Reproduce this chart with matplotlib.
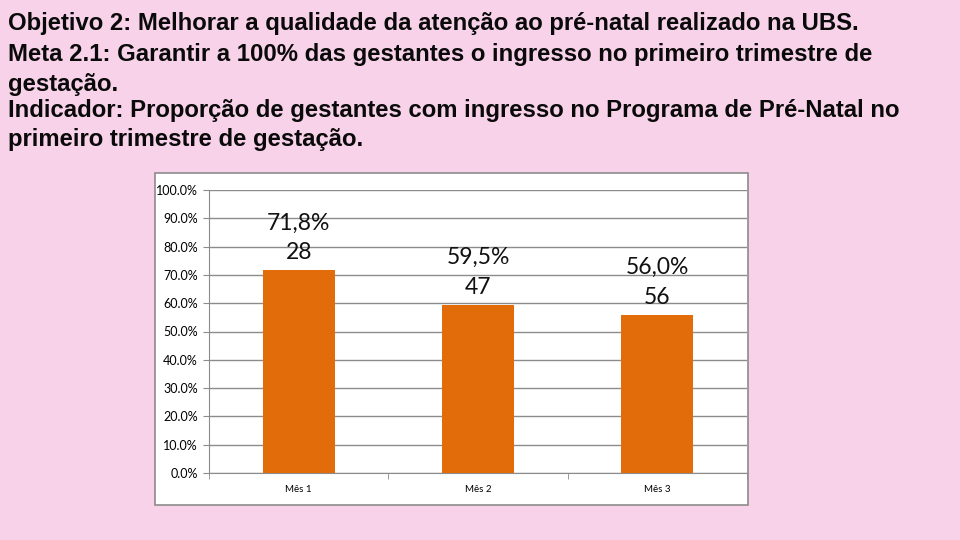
import numpy as np
import matplotlib.pyplot as plt
from matplotlib.patches import Rectangle
from matplotlib.ticker import FuncFormatter, MultipleLocator

meses = ['Mês 1', 'Mês 2', 'Mês 3']
proporcao = [71.8, 59.5, 56.0]
gestantes = [28, 47, 56]
rotulos = ['71,8%', '59,5%', '56,0%']

titulo = [
    'Objetivo 2: Melhorar a qualidade da atenção ao pré-natal realizado na UBS.',
    'Meta 2.1: Garantir a 100% das gestantes o ingresso no primeiro trimestre de',
    'gestação.',
    'Indicador: Proporção de gestantes com ingresso no Programa de Pré-Natal no',
    'primeiro trimestre de gestação.',
]
baselines = [30, 61, 91, 117, 146]

bg = '#f7d2e9'
laranja = '#e36c0a'

fig = plt.figure(figsize=(9.6, 5.4), dpi=100)
fig.patch.set_facecolor(bg)

for txt, yb in zip(titulo, baselines):
    fig.text(8 / 960, 1 - yb / 540, txt, ha='left', va='baseline',
             fontsize=17.2, fontweight='bold', family='Liberation Sans',
             color='#0a0a0a')

# white chart box
fig.patches.append(Rectangle((155 / 960, 1 - 505 / 540), 593 / 960, 332 / 540,
                             transform=fig.transFigure, facecolor='white',
                             edgecolor='#8c8c8c', linewidth=1.2, zorder=-1))

ax = fig.add_axes([209 / 960, 1 - 473 / 540, 538 / 960, 283 / 540])
ax.set_facecolor('white')
x = np.arange(len(meses))
ax.bar(x, proporcao, width=0.4, color=laranja, zorder=3)
ax.set_xlim(-0.5, len(meses) - 0.5)
ax.set_ylim(0, 100)
ax.yaxis.set_major_locator(MultipleLocator(10))
ax.yaxis.set_major_formatter(FuncFormatter(lambda v, p: '{:.1f}%'.format(v)))
ax.grid(axis='y', color='#8c8c8c', linewidth=1.0, zorder=0)
ax.set_xticks(x)
ax.set_xticklabels(meses, fontsize=7, family='Lato')
ax.set_xticks(np.arange(-0.5, len(meses)), minor=True)
ax.tick_params(axis='x', which='major', length=0, pad=9)
ax.tick_params(axis='x', which='minor', length=4, color='#8c8c8c')
ax.tick_params(axis='y', length=4, color='#8c8c8c', labelsize=9, pad=4)
for lab in ax.get_yticklabels():
    lab.set_family('Lato')
for s in ['top', 'right']:
    ax.spines[s].set_visible(False)
for s in ['left', 'bottom']:
    ax.spines[s].set_color('#8c8c8c')

for xi, v, r, g in zip(x, proporcao, rotulos, gestantes):
    ax.annotate('{}\n{}'.format(r, g), (xi, v), xytext=(0, 5),
                textcoords='offset points', ha='center', va='bottom',
                fontsize=16.5, family='Lato', linespacing=1.5, color='#111111')

fig.savefig('out.png', dpi=100, facecolor=bg)
